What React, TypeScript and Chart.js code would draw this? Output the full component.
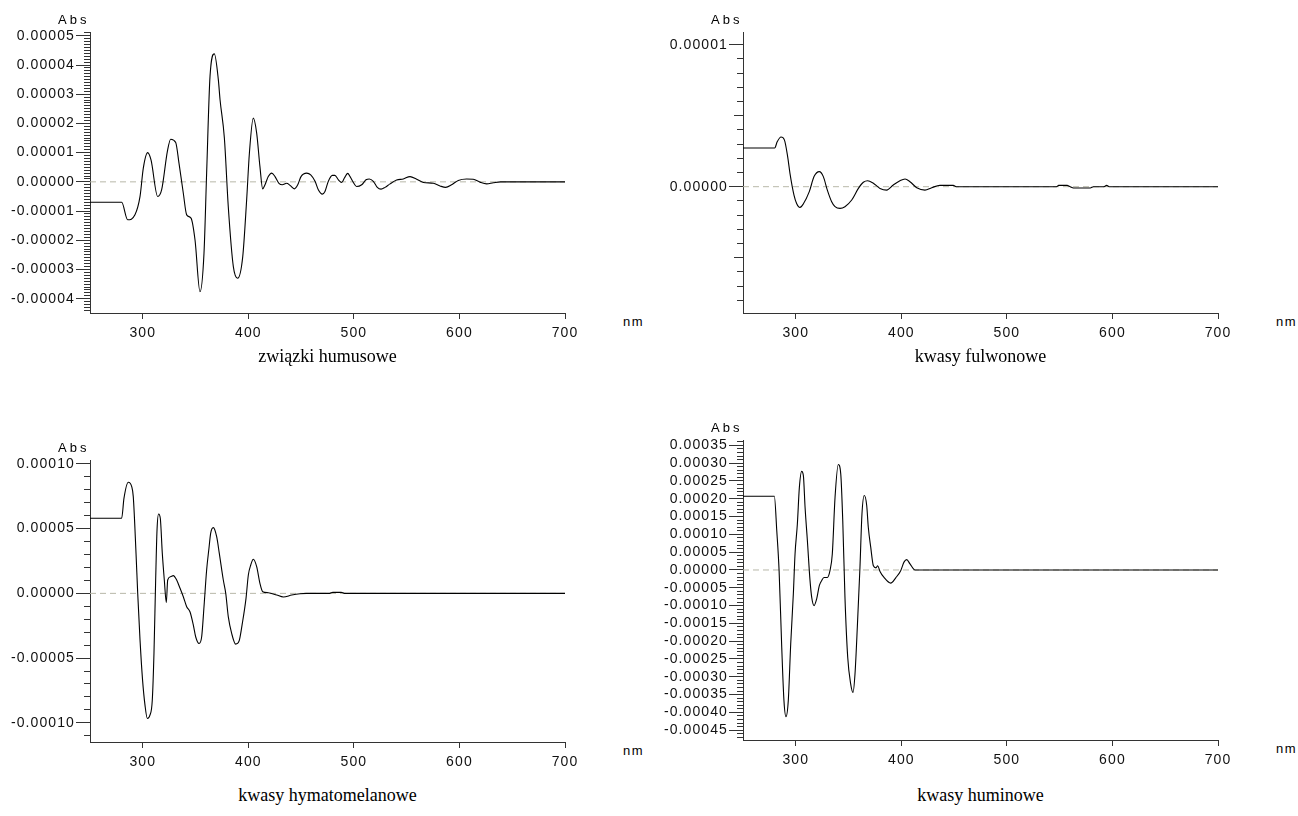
import React, { useEffect, useRef } from "react";
import { Chart, registerables } from "chart.js";

Chart.register(...registerables);

// ---------- DATA ----------
const xTicks = [300, 400, 500, 600, 700];
const zeroNm = [250, 700];
const zeroAbs = [0, 0];

// związki humusowe
const humusNm = [250, 280, 285.7, 292.6, 297.4, 300.5, 304.6, 307.8, 314.1, 317.9, 323.3, 326.4, 331.2, 334.3, 338.4, 341.6, 345.7, 349.5, 354.2, 358, 360.5, 363.7, 367.8, 371.6, 373.2, 377.3, 381, 385.8, 389.9, 394.7, 398.4, 401, 404.7, 407.9, 411, 413.6, 415.8, 418.9, 422.1, 425.3, 429, 432.2, 436.3, 439.5, 443.6, 446.8, 449.9, 455.3, 459.1, 463.2, 466.3, 470.1, 472.6, 475.8, 479.6, 482, 485.3, 488.4, 491, 494.1, 496.4, 499.5, 502.6, 507.4, 511.5, 514.6, 518.4, 522.2, 525.7, 529.5, 534.2, 540.5, 546.8, 553.2, 559.5, 565.8, 575.3, 581.6, 586.9, 592.6, 598.9, 606.8, 613.1, 619.4, 625.8, 632.1, 639, 700];
const humusAbs = [-0.70e-5, -0.70e-5, -1.30e-5, -1.13e-5, -0.50e-5, 0.47e-5, 1.00e-5, 0.75e-5, -0.50e-5, -0.27e-5, 1.04e-5, 1.46e-5, 1.35e-5, 0.64e-5, -0.39e-5, -1.13e-5, -1.24e-5, -1.99e-5, -3.76e-5, -2.44e-5, 0.30e-5, 3.61e-5, 4.38e-5, 3.49e-5, 2.81e-5, 1.50e-5, -0.85e-5, -2.90e-5, -3.30e-5, -2.56e-5, -0.62e-5, 0.98e-5, 2.18e-5, 1.67e-5, 0.52e-5, -0.24e-5, -0.10e-5, 0.18e-5, 0.30e-5, 0.18e-5, -0.05e-5, -0.10e-5, -0.05e-5, -0.12e-5, -0.24e-5, -0.10e-5, 0.18e-5, 0.30e-5, 0.24e-5, 0.02e-5, -0.27e-5, -0.42e-5, -0.33e-5, 0.02e-5, 0.22e-5, 0.22e-5, 0.07e-5, -0.02e-5, 0.13e-5, 0.29e-5, 0.18e-5, -0.02e-5, -0.16e-5, -0.10e-5, 0.07e-5, 0.10e-5, 0.02e-5, -0.19e-5, -0.25e-5, -0.19e-5, -0.07e-5, 0.06e-5, 0.10e-5, 0.18e-5, 0.09e-5, -0.02e-5, -0.05e-5, -0.14e-5, -0.19e-5, -0.10e-5, 0.05e-5, 0.10e-5, 0.09e-5, -0.01e-5, -0.07e-5, -0.03e-5, 0, 0];
const humusYLabels = [0.00005, 0.00004, 0.00003, 0.00002, 0.00001, 0, -0.00001, -0.00002, -0.00003, -0.00004];

// kwasy fulwonowe
const fulwoNm = [250, 280, 282.5, 286, 289.2, 292.3, 294.5, 298.3, 300.8, 304, 307.1, 312.8, 317.3, 322.3, 326.1, 329.9, 334, 337.2, 341.9, 346.6, 353, 359.3, 364, 368.1, 373.5, 379.8, 386.1, 392.4, 398.7, 403.5, 408.2, 414.6, 422.4, 428.8, 436.6, 449.2, 452, 547, 549, 557, 560, 563, 579, 582, 592, 594.5, 597, 700];
const fulwoAbs = [2.73e-6, 2.73e-6, 3.18e-6, 3.50e-6, 3.30e-6, 2.12e-6, 0.94e-6, -0.59e-6, -1.18e-6, -1.46e-6, -1.22e-6, -0.35e-6, 0.71e-6, 1.06e-6, 0.71e-6, -0.24e-6, -1.06e-6, -1.41e-6, -1.53e-6, -1.41e-6, -0.94e-6, -0.12e-6, 0.31e-6, 0.42e-6, 0.24e-6, -0.12e-6, -0.24e-6, 0.12e-6, 0.42e-6, 0.54e-6, 0.35e-6, -0.07e-6, -0.24e-6, -0.07e-6, 0.09e-6, 0.09e-6, 0, 0, 0.09e-6, 0.09e-6, 0, -0.09e-6, -0.09e-6, 0, 0, 0.09e-6, 0, 0];
const fulwoYLabels = [0.00001, 0];

// kwasy hymatomelanowe
const hymatNm = [250, 280, 282.2, 286.3, 289.5, 291, 293.6, 295.2, 297.4, 299.8, 302.1, 304.3, 306.8, 309, 310.6, 312.2, 313.5, 315, 316.6, 318.5, 320.4, 322.3, 323.6, 326.4, 328.9, 332.1, 335.3, 338.4, 341.6, 344.7, 347.9, 350.1, 353.3, 355.8, 358, 360.5, 362.7, 364.3, 366.8, 370, 372.5, 376.3, 378.6, 381, 384.2, 388, 391.2, 394.3, 397.8, 400, 402.3, 404.7, 407.9, 411, 413.6, 418.9, 426.9, 433.2, 441.1, 449, 455, 477, 480, 488, 491, 700];
const hymatAbs = [5.80e-5, 5.80e-5, 7.35e-5, 8.58e-5, 8.25e-5, 7.47e-5, 3.09e-5, 0, -3.61e-5, -6.70e-5, -8.63e-5, -9.66e-5, -9.41e-5, -8.25e-5, -4.64e-5, 1.03e-5, 4.90e-5, 6.13e-5, 5.80e-5, 3.09e-5, 1.03e-5, -0.72e-5, 1.03e-5, 1.29e-5, 1.37e-5, 1.03e-5, 0.39e-5, -0.26e-5, -1.03e-5, -1.42e-5, -2.45e-5, -3.35e-5, -3.87e-5, -3.35e-5, -1.03e-5, 1.80e-5, 3.48e-5, 4.64e-5, 5.08e-5, 4.38e-5, 3.09e-5, 1.03e-5, 0, -1.80e-5, -3.09e-5, -3.92e-5, -3.69e-5, -2.32e-5, -0.39e-5, 1.42e-5, 2.19e-5, 2.63e-5, 2.06e-5, 0.77e-5, 0.13e-5, 0.05e-5, -0.13e-5, -0.28e-5, -0.13e-5, -0.03e-5, 0, 0, 0.08e-5, 0.08e-5, 0, 0];
const hymatYLabels = [0.0001, 0.00005, 0, -0.00005, -0.0001];

// kwasy huminowe
const huminNm = [250, 279.7, 282, 284.2, 286.7, 288.8, 290.7, 292.9, 295.2, 297.7, 299.3, 301.5, 303.4, 305.6, 307.2, 308.8, 311, 313.5, 315.1, 317.3, 319.8, 322.3, 324.5, 326.7, 329.9, 332.4, 334.6, 337.2, 340.3, 342.6, 344.5, 346.6, 349.2, 352, 354.2, 356.1, 358.3, 360.8, 362.7, 364.9, 367.2, 368.7, 371, 373.5, 376, 377.6, 379.8, 383.6, 389.9, 394.7, 399.4, 402.5, 405.1, 408.2, 413, 700];
const huminAbs = [20.7e-5, 20.7e-5, 11.0e-5, -0.2e-5, -21.7e-5, -36.7e-5, -41.2e-5, -36.7e-5, -20.8e-5, -6.7e-5, 4.5e-5, 12.9e-5, 23.2e-5, 27.7e-5, 26.5e-5, 17.6e-5, 8.2e-5, -3.0e-5, -7.7e-5, -10.0e-5, -8.1e-5, -4.4e-5, -3.0e-5, -2.1e-5, -2.1e-5, -0.2e-5, 4.5e-5, 20.4e-5, 29.6e-5, 27.0e-5, 13.9e-5, -7.7e-5, -24.5e-5, -32.0e-5, -34.4e-5, -29.2e-5, -16.1e-5, 0.7e-5, 15.7e-5, 20.9e-5, 18.1e-5, 12.0e-5, 6.4e-5, 1.2e-5, 0.6e-5, 1.2e-5, -0.4e-5, -2.1e-5, -3.7e-5, -2.2e-5, -0.2e-5, 2.2e-5, 2.9e-5, 1.7e-5, 0, 0];
const huminYLabels = [0.00035, 0.0003, 0.00025, 0.0002, 0.00015, 0.0001, 0.00005, 0, -0.00005, -0.0001, -0.00015, -0.0002, -0.00025, -0.0003, -0.00035, -0.0004, -0.00045];

// ---------- LAYOUT ----------
type Panel = {
  key: string;
  caption: string;
  nm: number[];
  abs: number[];
  yMin: number;
  yMax: number;
  yLabels: number[];
  minorLo: number;
  minorHi: number;
  minorStep: number;
  yMid: number[];
  area: { left: number; top: number; right: number; bottom: number };
  absAt: [number, number];
  nmAt: [number, number];
  captionY: number;
};

const panels: Panel[] = [
  {
    key: "p1", caption: "związki humusowe", nm: humusNm, abs: humusAbs,
    yMin: -0.0000449, yMax: 0.0000513, yLabels: humusYLabels,
    minorLo: -0.000044, minorHi: 0.000051, minorStep: 0.000001, yMid: [],
    area: { left: 90, top: 32, right: 565, bottom: 313 },
    absAt: [58, 20], nmAt: [623, 322], captionY: 358,
  },
  {
    key: "p2", caption: "kwasy fulwonowe", nm: fulwoNm, abs: fulwoAbs,
    yMin: -0.0000089, yMax: 0.0000109, yLabels: fulwoYLabels,
    minorLo: -0.000008, minorHi: 0.00001, minorStep: 0.000001, yMid: [0.000005, -0.000005],
    area: { left: 743, top: 32, right: 1218, bottom: 313 },
    absAt: [711, 20], nmAt: [1276, 322], captionY: 358,
  },
  {
    key: "p3", caption: "kwasy hymatomelanowe", nm: hymatNm, abs: hymatAbs,
    yMin: -0.0001148, yMax: 0.000103, yLabels: hymatYLabels,
    minorLo: -0.00011, minorHi: 0.0001, minorStep: 0.00001, yMid: [],
    area: { left: 90, top: 460, right: 565, bottom: 742 },
    absAt: [58, 448], nmAt: [623, 751], captionY: 797,
  },
  {
    key: "p4", caption: "kwasy huminowe", nm: huminNm, abs: huminAbs,
    yMin: -0.0004775, yMax: 0.000365, yLabels: huminYLabels,
    minorLo: -0.00047, minorHi: 0.00036, minorStep: 0.00001, yMid: [],
    area: { left: 743, top: 440, right: 1218, bottom: 740 },
    absAt: [711, 428], nmAt: [1276, 749], captionY: 797,
  },
];

const FONT = '"Liberation Sans", Arial, Helvetica, sans-serif';
const SERIF = '"Liberation Serif", "Times New Roman", Times, serif';
const AXIS = "#333333";
const PAD_TOP = 20, PAD_RIGHT = 40, PAD_BOTTOM = 10, Y_W = 90, X_H = 30;

function stepTicks(lo: number, hi: number, step: number): number[] {
  const out: number[] = [];
  const a = Math.ceil(lo / step - 1e-6);
  const b = Math.floor(hi / step + 1e-6);
  for (let k = a; k <= b; k++) out.push(k * step);
  return out;
}

const spacingPlugin = {
  id: "letterSpacing",
  beforeLayout(chart: any) { chart.ctx.letterSpacing = "1.1px"; },
  beforeDraw(chart: any) { chart.ctx.letterSpacing = "1.1px"; },
};

function PanelChart({ p }: { p: Panel }) {
  const ref = useRef<HTMLCanvasElement>(null);
  useEffect(() => {
    const curve = p.nm.map((x, i) => ({ x, y: p.abs[i] }));
    const zero = zeroNm.map((x, i) => ({ x, y: zeroAbs[i] }));
    const minor = stepTicks(p.minorLo, p.minorHi, p.minorStep);
    const tickFont = { family: FONT, size: 14 };
    const scales: any = {
      x: {
        type: "linear", position: "bottom", min: 250, max: 700,
        afterBuildTicks: (s: any) => { s.ticks = xTicks.map((v) => ({ value: v })); },
        afterFit: (s: any) => { s.height = X_H; },
        ticks: { autoSkip: false, maxRotation: 0, padding: 6, color: "#111", font: tickFont, callback: (v: any) => String(v) },
        grid: { display: true, drawOnChartArea: false, drawTicks: true, tickLength: 6, tickColor: AXIS, tickWidth: 1 },
        border: { display: true, color: AXIS, width: 1 },
      },
      y: {
        type: "linear", position: "left", min: p.yMin, max: p.yMax,
        afterBuildTicks: (s: any) => { s.ticks = p.yLabels.map((v) => ({ value: v })); },
        afterFit: (s: any) => { s.width = Y_W; },
        ticks: { autoSkip: false, padding: 1, color: "#111", font: tickFont, callback: (v: any) => Number(v).toFixed(5) },
        grid: { display: true, drawOnChartArea: false, drawTicks: true, tickLength: 14, tickColor: AXIS, tickWidth: 1 },
        border: { display: true, color: AXIS, width: 1 },
      },
      yMinor: {
        type: "linear", axis: "y", position: { x: 250 }, min: p.yMin, max: p.yMax,
        afterBuildTicks: (s: any) => { s.ticks = minor.map((v) => ({ value: v })); },
        ticks: { display: false, autoSkip: false },
        grid: { display: true, drawOnChartArea: false, drawTicks: true, tickLength: 6, tickColor: AXIS, tickWidth: 1 },
        border: { display: false },
      },
    };
    if (p.yMid.length) {
      scales.yMid = {
        type: "linear", axis: "y", position: { x: 250 }, min: p.yMin, max: p.yMax,
        afterBuildTicks: (s: any) => { s.ticks = p.yMid.map((v) => ({ value: v })); },
        ticks: { display: false, autoSkip: false },
        grid: { display: true, drawOnChartArea: false, drawTicks: true, tickLength: 9, tickColor: AXIS, tickWidth: 1 },
        border: { display: false },
      };
    }
    const chart = new Chart(ref.current as HTMLCanvasElement, {
      type: "line",
      data: {
        datasets: [
          {
            data: curve, borderColor: "#000", borderWidth: 1.1, pointRadius: 0,
            cubicInterpolationMode: "monotone", fill: false, order: 1,
          } as any,
          {
            data: zero, borderColor: "#b8b8a8", borderWidth: 1, borderDash: [6, 4],
            pointRadius: 0, fill: false, order: 2,
          } as any,
        ],
      },
      options: {
        animation: false,
        responsive: true,
        maintainAspectRatio: false,
        events: [],
        layout: { padding: { left: 0, top: PAD_TOP, right: PAD_RIGHT, bottom: PAD_BOTTOM } },
        plugins: { legend: { display: false }, tooltip: { enabled: false }, title: { display: false } },
        scales,
      } as any,
      plugins: [spacingPlugin as any],
    });
    return () => chart.destroy();
  }, [p]);
  const w = Y_W + (p.area.right - p.area.left) + PAD_RIGHT;
  const h = PAD_TOP + (p.area.bottom - p.area.top) + X_H + PAD_BOTTOM;
  return (
    <div style={{ position: "absolute", left: p.area.left - Y_W, top: p.area.top - PAD_TOP, width: w, height: h }}>
      <canvas ref={ref} />
    </div>
  );
}

export default function App() {
  return (
    <div style={{ position: "absolute", left: 0, top: 0, width: 1298, height: 816, background: "#fff", overflow: "hidden" }}>
      {panels.map((p) => (
        <React.Fragment key={p.key}>
          <PanelChart p={p} />
          <div style={{ position: "absolute", left: p.absAt[0], top: p.absAt[1] - 8, height: 16, lineHeight: "16px", font: `13px ${FONT}`, letterSpacing: "3px", color: "#000", whiteSpace: "nowrap" }}>Abs</div>
          <div style={{ position: "absolute", left: p.nmAt[0], top: p.nmAt[1] - 8, height: 16, lineHeight: "16px", font: `13px ${FONT}`, letterSpacing: "1.5px", color: "#000", whiteSpace: "nowrap" }}>nm</div>
          <div style={{ position: "absolute", left: (p.area.left + p.area.right) / 2 - 200, width: 400, top: p.captionY - 12, height: 22, lineHeight: "22px", textAlign: "center", font: `18px ${SERIF}`, color: "#000", whiteSpace: "nowrap" }}>{p.caption}</div>
        </React.Fragment>
      ))}
    </div>
  );
}
